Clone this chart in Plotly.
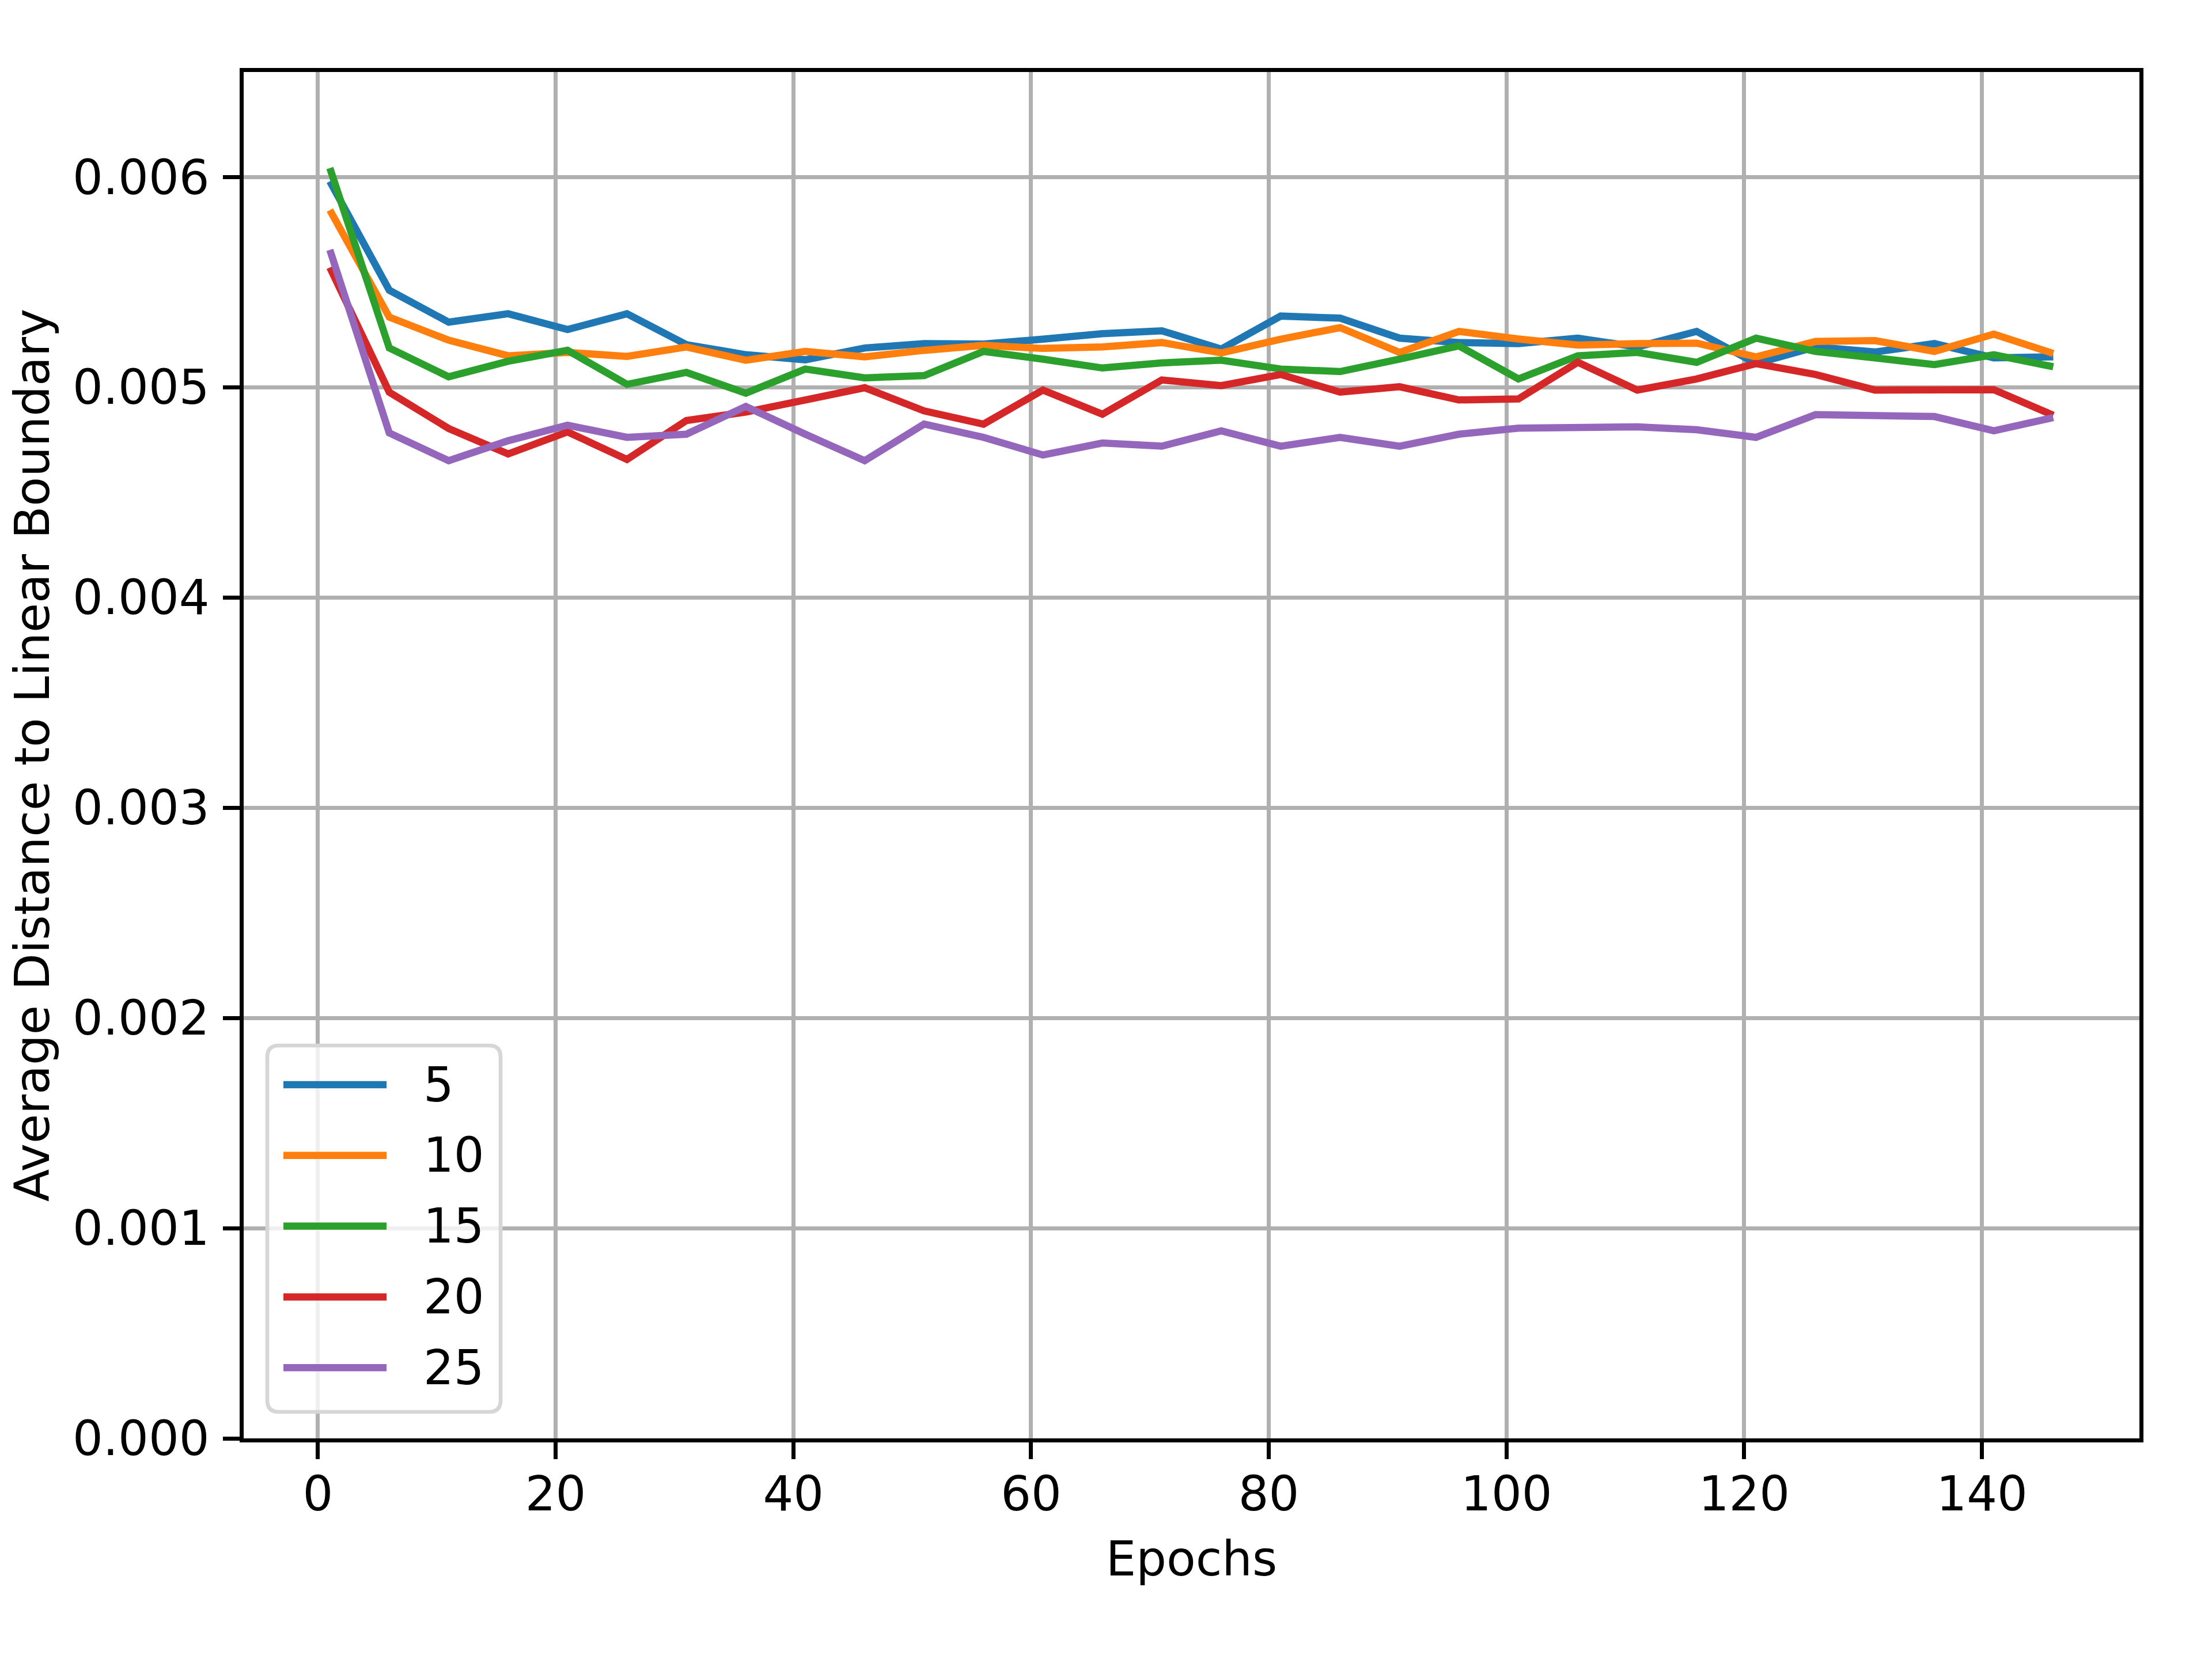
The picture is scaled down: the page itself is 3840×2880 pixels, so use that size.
import plotly.graph_objects as go

epochs = [1, 6, 11, 16, 21, 26, 31, 36, 41, 46, 51, 56, 61, 66, 71, 76, 81, 86, 91, 96,
          101, 106, 111, 116, 121, 126, 131, 136, 141, 146]

s5 = [0.00598, 0.005462, 0.00531, 0.00535, 0.005275, 0.00535, 0.005203, 0.005155, 0.005131, 0.005187,
      0.005208, 0.005206, 0.005229, 0.005255, 0.005269, 0.005182, 0.005339, 0.005329, 0.005234, 0.005213,
      0.005208, 0.005234, 0.005192, 0.005266, 0.005113, 0.005192, 0.005168, 0.005208, 0.00514, 0.005145]
s10 = [0.005843, 0.005334, 0.005224, 0.00515, 0.005166, 0.005147, 0.005192, 0.005129, 0.005171, 0.005145,
       0.005176, 0.0052, 0.005185, 0.005192, 0.005213, 0.005164, 0.005229, 0.005284, 0.005166, 0.005266,
       0.00523, 0.005201, 0.005208, 0.00521, 0.005145, 0.005218, 0.005222, 0.005171, 0.005253, 0.005161]
s15 = [0.006043, 0.005187, 0.00505, 0.005124, 0.005176, 0.005014, 0.005071, 0.004972, 0.005087, 0.005045,
       0.005056, 0.005171, 0.005134, 0.005092, 0.005116, 0.005129, 0.005087, 0.005075, 0.005134, 0.005197,
       0.00504, 0.00515, 0.005166, 0.005119, 0.005234, 0.005171, 0.00514, 0.005108, 0.005155, 0.005098]
s20 = [0.00557, 0.004977, 0.004804, 0.004683, 0.004788, 0.004657, 0.004842, 0.004882, 0.00494, 0.004998,
       0.004888, 0.004825, 0.004987, 0.004872, 0.005035, 0.005008, 0.005061, 0.004977, 0.005003, 0.00494,
       0.004945, 0.005119, 0.004987, 0.00504, 0.005113, 0.005061, 0.004987, 0.004987, 0.004989, 0.004867]
s25 = [0.005654, 0.004783, 0.004651, 0.004746, 0.00482, 0.004762, 0.004777, 0.004909, 0.004777, 0.004651,
       0.004825, 0.004762, 0.004678, 0.004735, 0.00472, 0.004793, 0.00472, 0.004762, 0.00472, 0.004777,
       0.004806, 0.004807, 0.004812, 0.004798, 0.004762, 0.00487, 0.004867, 0.004861, 0.004793, 0.004856]

series_names = ["5", "10", "15", "20", "25"]
series_values = [s5, s10, s15, s20, s25]
colors = ["#1f77b4", "#ff7f0e", "#2ca02c", "#d62728", "#9467bd"]

x_ticks = [0, 20, 40, 60, 80, 100, 120, 140]
y_ticks = [0.000, 0.001, 0.002, 0.003, 0.004, 0.005, 0.006]

FONT = "DejaVu Sans"
FS = 83
W, H = 3840, 2880
BODY = 8  # default page body margin
PL, PR, PT, PB = 423, 3714, 125, 2497  # plot area in target pixels
PW, PH = PR - PL, PB - PT


def px_x(p):
    return (p - PL) / PW


def px_y(p):
    return (PB - p) / PH


fig = go.Figure()
for name, vals, col in zip(series_names, series_values, colors):
    fig.add_trace(go.Scatter(
        x=epochs, y=vals, mode="lines", name=name, showlegend=False,
        line=dict(color=col, width=12.5),
    ))

# custom matplotlib-style legend
bx0, bx1, by0, by1 = 464, 869, 1815, 2451
r = 20
rx, ry = r / PW, r / PH
X0, X1, Y0, Y1 = px_x(bx0), px_x(bx1), px_y(by1), px_y(by0)
path = (f"M{X0+rx},{Y0} L{X1-rx},{Y0} Q{X1},{Y0} {X1},{Y0+ry} "
        f"L{X1},{Y1-ry} Q{X1},{Y1} {X1-rx},{Y1} "
        f"L{X0+rx},{Y1} Q{X0},{Y1} {X0},{Y1-ry} "
        f"L{X0},{Y0+ry} Q{X0},{Y0} {X0+rx},{Y0} Z")
shapes = [dict(type="path", xref="paper", yref="paper", path=path,
               fillcolor="rgba(255,255,255,0.8)", line=dict(color="#d6d6d6", width=6.7),
               layer="above")]
annotations = []
row0, row_gap = 1883, 122.8
for i, (name, col) in enumerate(zip(series_names, colors)):
    ry_ = px_y(row0 + i * row_gap)
    shapes.append(dict(type="line", xref="paper", yref="paper",
                       x0=px_x(492), x1=px_x(671), y0=ry_, y1=ry_,
                       line=dict(color=col, width=12.5), layer="above"))
    annotations.append(dict(xref="paper", yref="paper", x=px_x(733), y=ry_,
                            text=name, showarrow=False, xanchor="left", yanchor="middle",
                            font=dict(family=FONT, size=FS, color="black")))

axis_common = dict(
    showline=True, linecolor="black", linewidth=6.7, mirror=True,
    showgrid=True, gridcolor="#b0b0b0", gridwidth=6.7,
    ticks="outside", ticklen=29, tickwidth=6.7, tickcolor="black",
    zeroline=False,
    tickfont=dict(family=FONT, size=FS, color="black"),
)

fig.update_layout(
    width=W, height=H,
    paper_bgcolor="white", plot_bgcolor="white",
    margin=dict(l=PL - BODY, r=W - PR + BODY, t=PT - BODY, b=H - PB + BODY),
    font=dict(family=FONT, size=FS, color="black"),
    xaxis=dict(
        range=[-6.25, 153.25], tickvals=x_ticks, ticklabelstandoff=-10,
        title=dict(text="Epochs", font=dict(family=FONT, size=FS), standoff=38),
        **axis_common,
    ),
    yaxis=dict(
        range=[0, 0.0065], tickvals=y_ticks, tickformat=".3f", ticklabelstandoff=7,
        title=dict(text="Average Distance to Linear Boundary", font=dict(family=FONT, size=FS), standoff=20),
        **axis_common,
    ),
    shapes=shapes,
    annotations=annotations,
    showlegend=False,
)

fig.write_html("out.html")
